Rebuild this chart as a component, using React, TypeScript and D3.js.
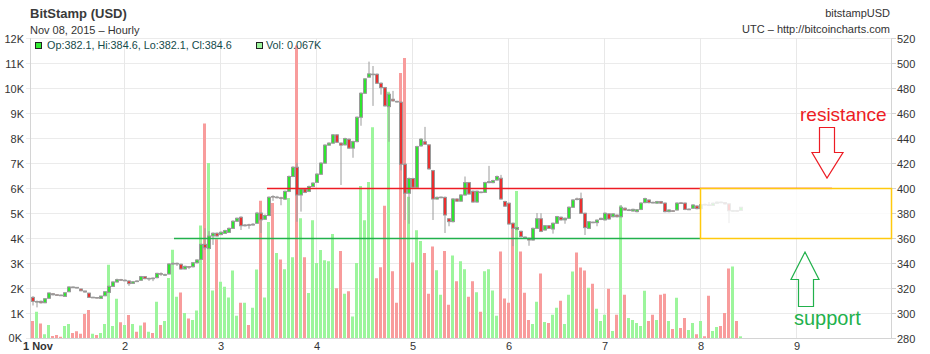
import React from "react";
import * as d3 from "d3";

// hourly candles, Bitstamp BTC/USD, 1 Nov 2015 00:00 UTC onwards (one row per day)
const openPrices = [
  312.5, 308.8, 309.3, 308.2, 311.8, 315.4, 314.6, 314.3, 313.3, 317, 320.8, 320.5, 319.2, 317.6, 315.9, 312.3, 312.4, 311.7, 313.8, 316.5, 321.3, 324.8, 326.7, 326.0,
  325.6, 323.7, 325.6, 326.2, 329.1, 327.5, 327.9, 328.3, 331.5, 330.4, 331.2, 339.2, 339.4, 339.0, 335.2, 337.1, 337.0, 340.2, 342.9, 354.9, 351.6, 361.6, 363.8, 362.7,
  363.7, 364.5, 367.7, 373.4, 376.6, 369.8, 370.6, 370.4, 371.8, 379.9, 375.0, 378.0, 393.2, 392.5, 392.2, 391.1, 397.3, 409.2, 416.6, 394.4, 399.2, 397.3, 401.2, 404.5,
  411.0, 419.9, 434.3, 435.9, 442.5, 435.9, 434.5, 439.0, 431.9, 437.1, 456.6, 475.8, 488.7, 490.8, 491.0, 483.8, 480.3, 465.1, 471.0, 469.3, 468.6, 419.0, 395.8, 407.6,
  400.6, 433.7, 437.0, 434.5, 413.9, 391.2, 392.5, 392.5, 375.4, 373.1, 391.2, 389.5, 394.4, 404.3, 397.4, 388.8, 396.8, 396.5, 404.3, 404.3, 406.4, 407.8, 389.2, 387.8,
  371.8, 366.9, 365.3, 360.7, 359.8, 358.4, 367.7, 375.4, 366.4, 369.8, 367.2, 371.8, 376.6, 374.5, 375.8, 384.6, 391.3, 391.5, 379.8, 367.7, 372.7, 372.3, 374.8, 374.5,
  379.3, 377.0, 378.3, 377.0, 383.8, 382.3, 381.6, 381.1, 382.9, 388.3, 390.4, 388.5, 387.9, 389.1, 387.9, 381.1, 381.8, 382.4, 388.1, 387.9, 382.8, 383.8, 385.6, 383.5,
  386.9, 386.5, 386.1, 387.8, 388.7, 388.3, 387.3, 381.6, 381.9, 382.1,
];
const closePrices = [
  309.3, 309.2, 308.2, 311.4, 316, 314.6, 314.3, 314.0, 316.2, 320.8, 320.5, 320, 317.8, 316.8, 312.5, 312.6, 312, 313.5, 317, 321.3, 324.8, 326.7, 326.3, 326.2,
  323.5, 325.0, 325.3, 329.1, 327.5, 327.7, 327.7, 331.7, 331.0, 330.7, 339.2, 339.7, 339.7, 335.2, 337.3, 336.8, 340.2, 342.4, 354.9, 352.2, 361.6, 363.8, 361.6, 364.6,
  365.9, 367.7, 373.4, 375.8, 369.8, 370.4, 370.4, 371.0, 379.9, 374.5, 378.0, 392.6, 393.0, 392.7, 391.9, 397.3, 409.2, 416.6, 394.4, 399.2, 396.5, 401.2, 403.9, 411.1,
  419.9, 434.3, 435.9, 442.5, 436.6, 434.3, 439.5, 431.9, 437.1, 456.6, 475.8, 487.3, 491.3, 491.1, 483.8, 480.3, 465.7, 475.0, 469.7, 469.0, 419.0, 395.8, 407.6, 400.6,
  433.1, 439.0, 435.0, 415.3, 391.2, 392.5, 392.7, 378.4, 373.1, 391.2, 389.5, 394.4, 404.3, 395.2, 388.8, 397.4, 396.5, 404.3, 405.1, 405.9, 409.2, 391.2, 385.5, 371.2,
  367.7, 368.4, 361.1, 360.3, 358.4, 367.7, 375.4, 365.3, 369.8, 367.7, 371.8, 377.1, 374.5, 375.8, 384.6, 390.4, 390.8, 379.8, 368.3, 373.0, 372.3, 374.3, 375.7, 379.8,
  375.2, 379.3, 377.0, 384.6, 382.4, 382.5, 382.9, 382.6, 387.9, 391.5, 388.3, 388.3, 389.1, 387.9, 381.1, 382.4, 381.6, 387.9, 387.9, 382.9, 383.1, 386.4, 383.5, 386.7,
  386.5, 386.1, 387.8, 388.7, 388.3, 387.3, 381.8, 381.9, 381.5, 384.6,
];
const highPrices = [
  313.5, 310, 310, 312, 316.5, 316, 315, 314.8, 316.6, 321.5, 321.3, 320.8, 319.6, 317.8, 316.2, 313, 312.8, 313.9, 317.5, 322, 325.5, 327.5, 327.3, 327,
  326.2, 325.5, 326.2, 329.7, 329.6, 328.2, 328.5, 332.2, 332.5, 331.5, 339.9, 340.4, 340.4, 339.6, 337.9, 337.6, 340.8, 343.1, 355.5, 367.8, 365.5, 364.5, 364.5, 365.3,
  366.6, 368.4, 374.2, 376.4, 377.4, 371.2, 371.4, 371.9, 380.9, 380.4, 378.9, 393.3, 394.2, 393.7, 393.0, 398.0, 410.0, 417.4, 420.1, 400.0, 399.8, 401.9, 404.6, 411.8,
  420.6, 435.0, 436.6, 443.2, 443.1, 436.5, 440.2, 439.7, 437.8, 457.3, 476.5, 488.0, 501.1, 497.6, 491.7, 484.5, 480.9, 475.7, 477.7, 469.8, 469.3, 420.1, 408.4, 408.2,
  433.8, 439.9, 448.9, 435.0, 414.5, 393.2, 393.2, 393.2, 376.0, 392.0, 391.8, 395.1, 409.2, 404.9, 398.0, 398.0, 397.2, 405.0, 417.7, 406.6, 410.0, 410.5, 389.8, 388.4,
  372.4, 369.0, 365.9, 361.3, 360.3, 368.4, 380.0, 379.8, 370.4, 370.4, 372.4, 377.7, 377.2, 376.4, 385.3, 391.1, 392.3, 396.3, 380.3, 373.6, 373.1, 374.9, 376.3, 380.5,
  379.9, 379.9, 378.9, 386.3, 384.5, 383.3, 383.5, 383.2, 388.6, 392.2, 391.0, 389.1, 389.7, 389.7, 388.5, 383.0, 382.3, 388.6, 388.6, 388.5, 383.7, 387.1, 386.2, 387.3,
  387.5, 388.8, 388.5, 389.3, 389.3, 388.8, 387.8, 382.5, 382.5, 384.6,
];
const lowPrices = [
  306, 304.5, 307.5, 307.8, 311.3, 314, 313.8, 313.6, 313, 316.6, 320, 319.6, 317.4, 316.3, 312, 311.9, 311.5, 311.3, 313.4, 316, 321, 324.3, 325.8, 325.5,
  321.7, 323.2, 324.7, 325.7, 327.0, 325.7, 325.5, 327.7, 329.7, 329.7, 330.7, 338.6, 337.6, 334.6, 334.8, 335.1, 336.4, 339.6, 342.4, 350.5, 351.0, 354.5, 361.0, 362.3,
  363.2, 364.0, 367.2, 372.9, 366.4, 369.2, 367.4, 369.9, 371.2, 364.0, 374.4, 377.4, 389.7, 391.7, 386.2, 390.5, 396.7, 408.7, 373.0, 381.1, 395.9, 396.7, 400.7, 404.0,
  410.4, 419.3, 433.8, 435.4, 436.0, 402.4, 434.0, 431.3, 424.2, 436.5, 449.8, 475.2, 488.2, 465.7, 483.2, 474.7, 465.1, 437.0, 469.1, 468.3, 414.1, 374.4, 371.4, 400.0,
  400.0, 433.0, 434.5, 414.7, 374.4, 390.6, 391.8, 364.0, 369.4, 372.4, 388.9, 389.0, 393.8, 394.6, 388.2, 388.2, 395.8, 396.0, 403.8, 403.8, 405.8, 390.6, 384.8, 370.6,
  353.5, 366.2, 360.5, 359.5, 353.8, 357.8, 367.2, 364.7, 365.8, 367.2, 363.5, 371.2, 373.9, 371.4, 375.2, 384.0, 390.1, 379.3, 362.4, 367.1, 371.8, 369.4, 374.3, 374.0,
  374.6, 376.5, 376.4, 376.4, 381.9, 381.5, 381.1, 380.5, 382.3, 387.8, 387.7, 387.7, 387.3, 387.3, 380.5, 380.5, 381.0, 381.9, 387.3, 382.3, 382.3, 383.3, 382.9, 382.9,
  385.9, 385.5, 385.6, 387.3, 387.8, 386.7, 371.9, 381.0, 380.9, 382.1,
];
// volume in thousands of BTC
const volumesK = [
  0.68, 1.05, 0.58, 0.15, 0.52, 0.08, 0.12, 0.05, 0.48, 0.56, 0.2, 0.27, 0.17, 0.96, 1.12, 0.17, 0.12, 0.2, 0.56, 2.93, 0.48, 1.57, 0.63, 0.52,
  0.92, 0.56, 0.25, 0.5, 0.62, 0.25, 0.2, 1.45, 0.52, 0.68, 2.4, 3.53, 1.65, 1.82, 1.0, 0.78, 0.72, 1.1, 4.5, 8.58, 7.0, 1.9, 3.95, 2.25,
  2.05, 1.62, 2.7, 0.89, 1.41, 1.41, 0.52, 1.21, 2.74, 5.49, 1.62, 4.64, 5.4, 3.4, 3.14, 2.75, 5.6, 3.23, 11.7, 4.79, 3.23, 1.8, 4.71, 3.0,
  3.52, 3.11, 3.07, 4.16, 1.99, 3.48, 1.77, 1.87, 0.86, 3.0, 6.08, 4.71, 6.24, 8.43, 2.39, 2.83, 5.29, 9.85, 2.67, 1.41, 10.6, 11.2, 5.65, 3.02,
  4.31, 3.88, 3.4, 1.77, 3.66, 2.71, 1.73, 3.48, 1.33, 3.3, 2.27, 3.07, 2.75, 1.65, 2.27, 1.83, 1.05, 2.67, 2.75, 1.9, 0.89, 3.46, 1.58, 1.41,
  4.6, 5.88, 3.46, 1.81, 0.72, 0.56, 1.45, 2.58, 0.64, 0.6, 0.93, 1.21, 1.49, 0.56, 1.73, 2.66, 3.42, 2.82, 2.7, 2.01, 2.17, 1.17, 0.68, 0.93,
  1.97, 0.28, 0.93, 5.3, 1.73, 0.8, 0.72, 0.6, 0.48, 1.89, 0.68, 0.93, 0.72, 1.73, 1.77, 0.68, 0.36, 1.61, 0.4, 0.8, 0.32, 0.6, 0.15, 0.68,
  0.07, 1.69, 0.28, 0.44, 0.48, 1.0, 2.78, 2.86, 0.68, 0.067,
];

const dayLabels = ["1 Nov", "2", "3", "4", "5", "6", "7", "8", "9"];
const volumeTicks = [0, 1, 2, 3, 4, 5, 6, 7, 8, 9, 10, 11, 12];
const priceTicks = [280, 300, 320, 340, 360, 380, 400, 420, 440, 460, 480, 500, 520];

const FONT = "'Liberation Sans', Arial, sans-serif";
const UP = "#2ee52e";
const DOWN = "#ea2f2f";
const VOL_UP = "#9cf59c";
const VOL_DOWN = "#f89c9c";
const PAINT_RED = "#ed1c24";
const PAINT_GREEN = "#22b14c";

const App = () => {
  const left = 30, right = 891, top = 38, bottom = 338;

  const x = d3
    .scaleUtc()
    .domain([new Date(Date.UTC(2015, 10, 1)), new Date(Date.UTC(2015, 10, 10))])
    .range([28.3, 892.3]);
  const yVol = d3.scaleLinear().domain([0, 12]).range([bottom, top]);
  const yPrice = d3.scaleLinear().domain([280, 520]).range([bottom, top]);

  const times = openPrices.map((_, i) => new Date(Date.UTC(2015, 10, 1, i)));
  const days = d3.utcDay.range(new Date(Date.UTC(2015, 10, 1)), new Date(Date.UTC(2015, 10, 10)));

  const last = openPrices.length - 1;
  const legend = `Op:${openPrices[last].toFixed(1)}, Hi:${highPrices[last].toFixed(1)}, Lo:${lowPrices[last].toFixed(1)}, Cl:${closePrices[last].toFixed(1)}`;

  // annotation positions (drawn by hand on the original screenshot)
  const resY = Math.round(yPrice(400)) + 0.5;
  const supY = Math.round(yPrice(360.4)) + 0.5;
  const boxX = Math.round(x(new Date(Date.UTC(2015, 10, 8)))) + 0.5;

  return (
    <div style={{ position: "absolute", left: 0, top: 0 }}>
      <svg width={930} height={354} style={{ display: "block", background: "#fff" }} fontFamily={FONT}>
        {/* header */}
        <text x={30} y={18} fontSize={13} fontWeight="bold" fill="#3a3a3a">BitStamp (USD)</text>
        <text x={30} y={34} fontSize={11} fill="#333">Nov 08, 2015 – Hourly</text>
        <text x={890} y={17} fontSize={11} fill="#333" textAnchor="end">bitstampUSD</text>
        <text x={890} y={33} fontSize={11} fill="#333" textAnchor="end">UTC – http://bitcoincharts.com</text>

        {/* grid */}
        {volumeTicks.map((v) => (
          <line key={"gh" + v} x1={26} x2={right} y1={Math.round(yVol(v)) + 0.5} y2={Math.round(yVol(v)) + 0.5} stroke="#ebebeb" />
        ))}
        {days.slice(1).map((d, i) => (
          <line key={"gv" + i} x1={Math.round(x(d)) + 0.5} x2={Math.round(x(d)) + 0.5} y1={top} y2={bottom} stroke="#e8e8e8" />
        ))}

        {/* volume */}
        {times.map((t, i) => (
          <rect
            key={"v" + i}
            x={Math.round(x(t)) + 3}
            y={yVol(volumesK[i])}
            width={3}
            height={bottom - yVol(volumesK[i])}
            fill={closePrices[i] >= openPrices[i] ? VOL_UP : VOL_DOWN}
          />
        ))}

        {/* axes */}
        <line x1={left + 0.5} x2={left + 0.5} y1={top} y2={bottom} stroke="#d4d4d4" />
        <line x1={right + 0.5} x2={right + 0.5} y1={top} y2={bottom + 1} stroke="#d4d4d4" />
        <line x1={left} x2={right + 1} y1={bottom + 0.5} y2={bottom + 0.5} stroke="#d4d4d4" />
        {priceTicks.map((p) => (
          <g key={"pt" + p}>
            <line x1={right + 1} x2={right + 5} y1={Math.round(yPrice(p)) + 0.5} y2={Math.round(yPrice(p)) + 0.5} stroke="#d4d4d4" />
            <text x={897} y={yPrice(p) + 4.5} fontSize={11} fill="#333">{p}</text>
          </g>
        ))}
        {volumeTicks.map((v) => (
          <text key={"vt" + v} x={v === 0 ? 22 : 24} y={yVol(v) + (v === 0 ? 3.5 : 4.5)} fontSize={11} fill="#333" textAnchor="end">{v + "K"}</text>
        ))}
        {days.map((d, i) => (
          <text
            key={"dl" + i}
            x={i === 0 ? 23 : Math.round(x(d)) + 1}
            y={350}
            fontSize={11}
            fontWeight={i === 0 ? "bold" : "normal"}
            fill="#333"
            textAnchor={i === 0 ? "start" : "middle"}
          >
            {dayLabels[i]}
          </text>
        ))}

        {/* candles */}
        {times.map((t, i) => {
          const o = openPrices[i], c = closePrices[i];
          const x0 = Math.round(x(t)) + 3.5;
          const yTop = yPrice(Math.max(o, c));
          const yBot = yPrice(Math.min(o, c));
          return (
            <g key={"c" + i}>
              <line x1={x0 + 1.5} x2={x0 + 1.5} y1={yPrice(highPrices[i])} y2={yPrice(lowPrices[i])} stroke="#9a9a9a" />
              <rect x={x0} y={yTop} width={3} height={Math.max(yBot - yTop, 0.6)} fill={c >= o ? UP : DOWN} stroke="#9a9a9a" />
            </g>
          );
        })}

        {/* resistance / support lines */}
        <line x1={267} x2={832} y1={resY} y2={resY} stroke={PAINT_RED} strokeWidth={1.5} />
        <line x1={174} x2={boxX} y1={supY} y2={supY} stroke={PAINT_GREEN} strokeWidth={1.5} />
        <rect x={boxX} y={resY} width={right + 0.5 - boxX} height={supY - resY} fill="#fff" fillOpacity={0.8} stroke="#ffc90e" strokeWidth={1.5} />

        {/* arrows and labels */}
        <path d="M819.5,127.5 H834.5 V152.5 H843 L827,178 L812,152.5 H819.5 Z" fill="none" stroke={PAINT_RED} strokeWidth={1.2} />
        <text x={800} y={121} fontSize={19} fill={PAINT_RED}>resistance</text>
        <path d="M805,252 L819,279.5 H813.5 V306.5 H798.5 V279.5 H791 Z" fill="none" stroke={PAINT_GREEN} strokeWidth={1.2} />
        <text x={794} y={325} fontSize={20} fill={PAINT_GREEN}>support</text>

        {/* legend */}
        <rect x={35.5} y={42.5} width={6} height={6} fill="#33ee33" stroke="#222" />
        <text x={47} y={49} fontSize={10.8} fill="#154a4a">{legend}</text>
        <rect x={256.5} y={42.5} width={6} height={6} fill={VOL_UP} stroke="#222" />
        <text x={266} y={49} fontSize={10.8} fill="#154a4a">{`Vol: ${volumesK[last].toFixed(3)}K`}</text>
      </svg>
    </div>
  );
};

export default App;
